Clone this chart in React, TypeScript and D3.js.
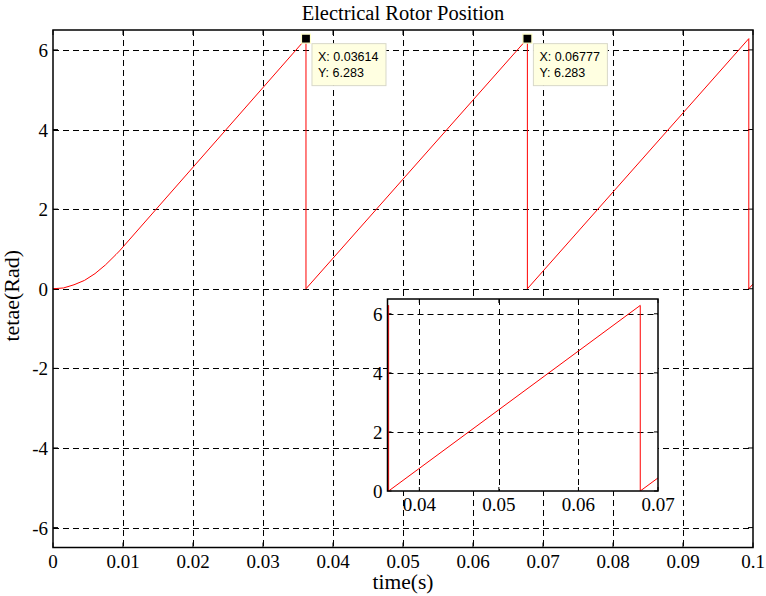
import React from "react";
import { scaleLinear, line } from "d3";

// rotor angle samples (t in s, theta in rad)
const timeS = [0, 0.0015, 0.003, 0.0045, 0.006, 0.0075, 0.009, 0.0095, 0.03614, 0.03614, 0.06777, 0.06777, 0.0994, 0.0994, 0.1];
const thetaRad = [0, 0.02, 0.1, 0.21, 0.38, 0.6, 0.86, 0.95, 6.283, 0, 6.283, 0, 6.283, 0, 0.12];

const xTicks = [0, 0.01, 0.02, 0.03, 0.04, 0.05, 0.06, 0.07, 0.08, 0.09, 0.1];
const yTicks = [-6, -4, -2, 0, 2, 4, 6];
const zoomXTicks = [0.04, 0.05, 0.06, 0.07];
const zoomYTicks = [0, 2, 4, 6];

const dataTips = [
  { x: 0.03614, y: 6.283, label: ["X: 0.03614", "Y: 6.283"] },
  { x: 0.06777, y: 6.283, label: ["X: 0.06777", "Y: 6.283"] },
];

const serif = "'Liberation Serif', 'Times New Roman', serif";
const sans = "'Liberation Sans', Arial, sans-serif";

const App = () => {
  const W = 766;
  const H = 596;
  const m = { left: 53, right: 753, top: 30, bottom: 547.5 };
  const x = scaleLinear().domain([0, 0.1]).range([m.left, m.right]);
  const y = scaleLinear().domain([-6.5, 6.5]).range([m.bottom, m.top]);

  const z = { left: 387.5, right: 658, top: 299, bottom: 491 };
  const zx = scaleLinear().domain([0.036, 0.07]).range([z.left, z.right]);
  const zy = scaleLinear().domain([0, 6.5]).range([z.bottom, z.top]);

  const pts = timeS.map((t, i) => [t, thetaRad[i]] as [number, number]);
  const mainLine = line<[number, number]>().x((d) => x(d[0])).y((d) => y(d[1]));
  const zoomLine = line<[number, number]>().x((d) => zx(d[0])).y((d) => zy(d[1]));

  const dash = "6,4";
  const tick = 5;
  const tickFont = 19;

  return (
    <svg width={W} height={H} style={{ position: "absolute", left: 0, top: 0, background: "white" }}>
      <defs>
        <clipPath id="mainClip">
          <rect x={m.left} y={m.top} width={m.right - m.left} height={m.bottom - m.top} />
        </clipPath>
        <clipPath id="zoomClip">
          <rect x={z.left} y={z.top} width={z.right - z.left} height={z.bottom - z.top} />
        </clipPath>
      </defs>

      <text x={(m.left + m.right) / 2} y={20} textAnchor="middle" fontFamily={serif} fontSize={20.5}>
        Electrical Rotor Position
      </text>

      {/* main grid */}
      <g stroke="black" strokeWidth={1} strokeDasharray={dash}>
        {xTicks.slice(1, -1).map((t) => (
          <line key={"gx" + t} x1={Math.round(x(t)) + 0.5} x2={Math.round(x(t)) + 0.5} y1={m.top} y2={m.bottom} />
        ))}
        {yTicks.map((v) => (
          <line key={"gy" + v} x1={m.left} x2={m.right} y1={Math.round(y(v)) + 0.5} y2={Math.round(y(v)) + 0.5} />
        ))}
      </g>

      {/* main ticks (inward) */}
      <g stroke="black" strokeWidth={1}>
        {xTicks.map((t) => (
          <g key={"tx" + t}>
            <line x1={x(t)} x2={x(t)} y1={m.bottom} y2={m.bottom - tick} />
            <line x1={x(t)} x2={x(t)} y1={m.top} y2={m.top + tick} />
          </g>
        ))}
        {yTicks.map((v) => (
          <g key={"ty" + v}>
            <line x1={m.left} x2={m.left + tick} y1={y(v)} y2={y(v)} />
            <line x1={m.right} x2={m.right - tick} y1={y(v)} y2={y(v)} />
          </g>
        ))}
      </g>

      <path d={mainLine(pts) || ""} fill="none" stroke="#ff0000" strokeWidth={1} clipPath="url(#mainClip)" />

      <rect x={m.left} y={m.top} width={m.right - m.left} height={m.bottom - m.top} fill="none" stroke="black" strokeWidth={1.5} />

      <g fontFamily={serif} fontSize={tickFont} fill="black">
        {xTicks.map((t) => (
          <text key={"lx" + t} x={x(t)} y={568} textAnchor="middle">
            {String(t)}
          </text>
        ))}
        {yTicks.map((v) => (
          <text key={"ly" + v} x={m.left - 5} y={y(v) + 7} textAnchor="end">
            {String(v)}
          </text>
        ))}
      </g>

      <text x={(m.left + m.right) / 2} y={589} textAnchor="middle" fontFamily={serif} fontSize={21.5}>
        time(s)
      </text>
      <text
        transform={`translate(19, ${(m.top + m.bottom) / 2 + 7}) rotate(-90)`}
        textAnchor="middle"
        fontFamily={serif}
        fontSize={22}
      >
        tetae(Rad)
      </text>

      {/* data tips */}
      {dataTips.map((d) => {
        const px = x(d.x);
        const py = y(d.y);
        return (
          <g key={"tip" + d.x}>
            <rect x={px - 4.5} y={py - 4.5} width={9} height={9} fill="black" stroke="#ffffc8" strokeWidth={1.2} />
            <rect x={px + 6} y={py + 5} width={74} height={42} fill="#ffffe1" stroke="#d8d8c8" strokeWidth={1} />
            {d.label.map((s, i) => (
              <text key={s} x={px + 12} y={py + 22 + i * 16} fontFamily={sans} fontSize={12.5} fill="black">
                {s}
              </text>
            ))}
          </g>
        );
      })}

      {/* inset axes */}
      <rect x={z.left} y={z.top} width={z.right - z.left} height={z.bottom - z.top} fill="white" />
      <g stroke="black" strokeWidth={1} strokeDasharray={dash}>
        {zoomXTicks.slice(0, -1).map((t) => (
          <line key={"zgx" + t} x1={Math.round(zx(t)) + 0.5} x2={Math.round(zx(t)) + 0.5} y1={z.top} y2={z.bottom} />
        ))}
        {zoomYTicks.slice(1).map((v) => (
          <line key={"zgy" + v} x1={z.left} x2={z.right} y1={Math.round(zy(v)) + 0.5} y2={Math.round(zy(v)) + 0.5} />
        ))}
      </g>
      <g stroke="black" strokeWidth={1}>
        {zoomXTicks.map((t) => (
          <g key={"ztx" + t}>
            <line x1={zx(t)} x2={zx(t)} y1={z.bottom} y2={z.bottom - 4} />
            <line x1={zx(t)} x2={zx(t)} y1={z.top} y2={z.top + 4} />
          </g>
        ))}
        {zoomYTicks.map((v) => (
          <g key={"zty" + v}>
            <line x1={z.left} x2={z.left + 4} y1={zy(v)} y2={zy(v)} />
            <line x1={z.right} x2={z.right - 4} y1={zy(v)} y2={zy(v)} />
          </g>
        ))}
      </g>
      <path d={zoomLine(pts) || ""} fill="none" stroke="#ff0000" strokeWidth={1} clipPath="url(#zoomClip)" />
      <rect x={z.left} y={z.top} width={z.right - z.left} height={z.bottom - z.top} fill="none" stroke="black" strokeWidth={1.5} />
      <g fontFamily={serif} fontSize={tickFont} fill="black">
        {zoomXTicks.map((t) => (
          <text key={"zlx" + t} x={zx(t)} y={511} textAnchor="middle">
            {String(t)}
          </text>
        ))}
        {zoomYTicks.map((v) => (
          <text key={"zly" + v} x={z.left - 5} y={zy(v) + 7} textAnchor="end">
            {String(v)}
          </text>
        ))}
      </g>
    </svg>
  );
};

export default App;
